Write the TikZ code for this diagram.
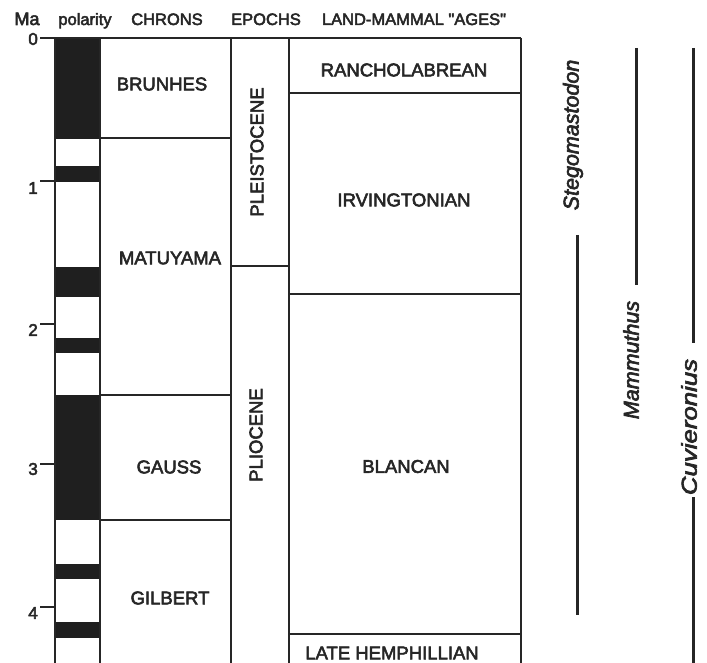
\documentclass[tikz,border=0pt]{standalone}
\usepackage{fontspec}
\setmainfont{Liberation Sans}
\newfontfamily\heavy{Liberation Sans}[FakeBold=3]
\newfontfamily\heavyit{Liberation Sans Italic}[FakeBold=3]
\begin{document}
\begin{tikzpicture}[x=1pt,y=-1pt,
 frame/.style={line width=1.7pt, draw=black!85},
 band/.style={fill=black!88},
 lbl/.style={font=\heavy\fontsize{18.5}{20}\selectfont, inner sep=0pt, text=black!85},
 vlbl/.style={lbl, rotate=90},
 hdr/.style={font=\heavy\fontsize{16.5}{18}\selectfont, inner sep=0pt, anchor=base, text=black!85},
 malbl/.style={font=\heavy\fontsize{17}{18}\selectfont, inner sep=0pt, anchor=east, text=black!85},
 genus/.style={font=\heavyit\fontsize{21.5}{23}\selectfont, inner sep=0pt, rotate=90, text=black!85},
 rangebar/.style={line width=3pt, draw=black!85},
 tickmark/.style={line width=1.3pt, draw=black!85}]
\useasboundingbox (0,0) rectangle (707,663);
% header
\node[hdr, font=\heavy\fontsize{18}{19}\selectfont] (hMa) at (27,25) {Ma};
\node[hdr] (hpol) at (85,25) {polarity};
\node[hdr] (hchr) at (167,25) {CHRONS};
\node[hdr] (hepo) at (266,25) {EPOCHS};
\node[hdr] (hlma) at (414,25) {LAND-MAMMAL \symbol{34}AGES\symbol{34}};
% polarity bands
\fill[band] (55,39) rectangle (100,139);
\fill[band] (55,166) rectangle (100,182);
\fill[band] (55,267) rectangle (100,297);
\fill[band] (55,338) rectangle (100,353);
\fill[band] (55,395) rectangle (100,520);
\fill[band] (55,564) rectangle (100,579);
\fill[band] (55,622) rectangle (100,638);
% frame
\draw[frame] (40,38) -- (521,38);
\foreach \xx in {55,100,231,289,521} \draw[frame] (\xx,38) -- (\xx,663);
\draw[frame] (100,138) -- (231,138);
\draw[frame] (100,395) -- (231,395);
\draw[frame] (100,520) -- (231,520);
\draw[frame] (231,266) -- (289,266);
\draw[frame] (289,93) -- (521,93);
\draw[frame] (289,294) -- (521,294);
\draw[frame] (289,634) -- (521,634);
% ticks
\draw[tickmark] (40,181) -- (55,181);
\draw[tickmark] (40,324) -- (55,324);
\draw[tickmark] (40,464) -- (55,464);
\draw[tickmark] (40,607) -- (55,607);
\node[malbl] (t0) at (38,39) {0};
\node[malbl] (t1) at (38,188) {1};
\node[malbl] (t2) at (38,330) {2};
\node[malbl] (t3) at (38,469) {3};
\node[malbl] (t4) at (38,613) {4};
% chrons
\node[lbl] (brunhes) at (162,84) {BRUNHES};
\node[lbl] (matuyama) at (170,258) {MATUYAMA};
\node[lbl] (gauss) at (169,467) {GAUSS};
\node[lbl] (gilbert) at (170,598) {GILBERT};
% epochs
\node[vlbl] (pleist) at (257,152) {PLEISTOCENE};
\node[vlbl] (plio) at (256,435) {PLIOCENE};
% land mammal ages
\node[lbl] (ranch) at (404,70) {RANCHOLABREAN};
\node[lbl] (irv) at (404,200) {IRVINGTONIAN};
\node[lbl] (blanc) at (406,466.5) {BLANCAN};
\node[lbl] (hemph) at (392,653) {LATE HEMPHILLIAN};
% taxon ranges
\node[genus] (steg) at (573,135) {Stegomastodon};
\draw[rangebar] (577,235) -- (577,615);
\node[genus] (mamm) at (631,360) {Mammuthus};
\draw[rangebar] (636,48) -- (636,285);
\node[genus] (cuv) at (689,427) {\scalebox{1.2}[1]{Cuvieronius}};
\draw[rangebar] (693,48) -- (693,343);
\draw[rangebar] (693,497) -- (693,663);
\end{tikzpicture}
\end{document}
